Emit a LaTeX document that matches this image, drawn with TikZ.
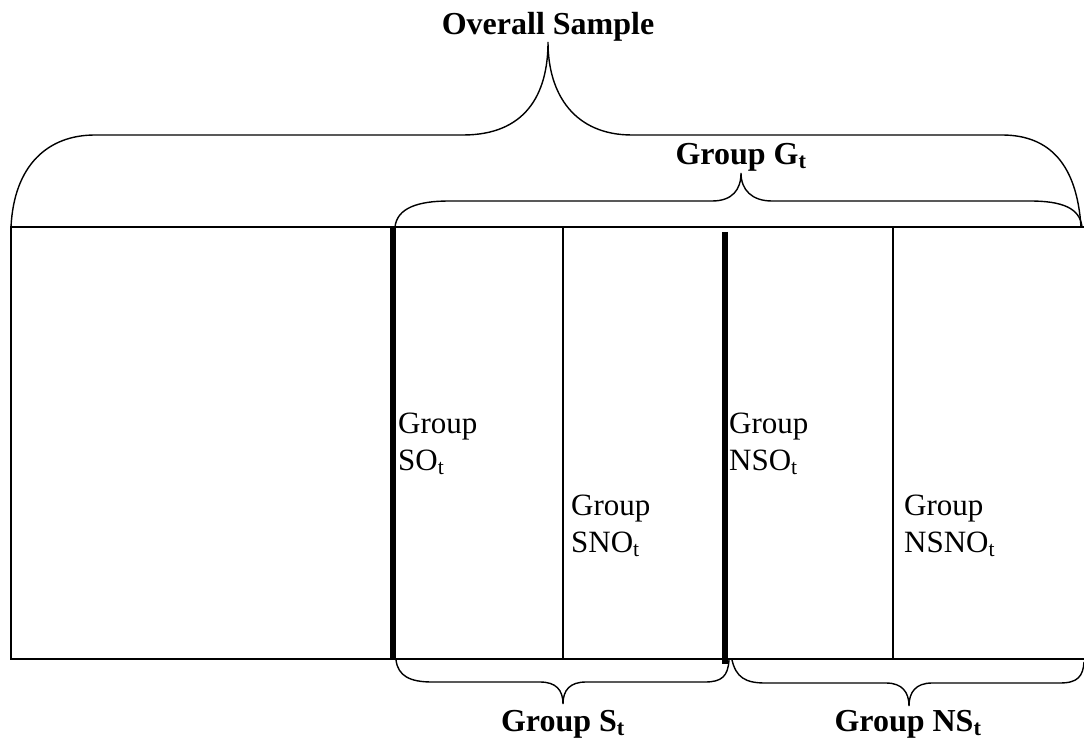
\documentclass[tikz,border=0pt]{standalone}
\usepackage{fontspec}
\setmainfont{Liberation Serif}
\begin{document}
\begin{tikzpicture}[x=1pt,y=-1pt,
  thin line/.style={line width=1.4pt},
  split bar/.style={line width=6pt},
  brace line/.style={line width=1.4pt},
  cell label/.style={anchor=north west,inner sep=0pt,align=left,
    font=\fontsize{31}{37}\selectfont},
  brace label/.style={inner sep=0pt,font=\fontsize{32}{36}\selectfont\bfseries}]
\useasboundingbox (0,0) rectangle (1084,743);

% outer frame of the sample
\coordinate (tl) at (11,227);
\coordinate (bl) at (11,659);
\coordinate (tr) at (1084,227);
\coordinate (br) at (1084,659);
\draw[thin line] (tr) -- (tl) -- (bl) -- (br);

% division lines
\coordinate (s1) at (393,227);  \coordinate (s1b) at (393,659);
\coordinate (d1) at (563,227);  \coordinate (d1b) at (563,659);
\coordinate (s2) at (725,232);  \coordinate (s2b) at (725,664);
\coordinate (d2) at (893,227);  \coordinate (d2b) at (893,659);
\draw[thin line] (d1) -- (d1b);
\draw[thin line] (d2) -- (d2b);
\draw[split bar] (s1) -- (s1b);
\draw[split bar] (s2) -- (s2b);

% cell labels
\node[cell label] (so)   at (398,413) {Group\\SO\textsubscript{t}};
\node[cell label] (sno)  at (571,495) {Group\\SNO\textsubscript{t}};
\node[cell label] (nso)  at (729,413) {Group\\NSO\textsubscript{t}};
\node[cell label] (nsno) at (904,495) {Group\\NSNO\textsubscript{t}};

% overall brace
\node[brace label] (all) at (548,27) {Overall Sample};
\coordinate (allL) at (11,227);
\coordinate (allR) at (1081,227);
\coordinate (allT) at (548,42);
\draw[brace line] (allL) .. controls (14,165) and (48,135) .. (95,135)
  -- (463,135) .. controls (525,135) and (548,95) .. (allT)
  .. controls (548,95) and (575,135) .. (632,135)
  -- (1002,135) .. controls (1050,135) and (1077,165) .. (allR);

% group G brace
\node[brace label] (g) at (741,157) {Group G\textsubscript{t}};
\coordinate (gL) at (395,227);
\coordinate (gR) at (1082,227);
\coordinate (gT) at (741,173);
\draw[brace line] (gL) .. controls (397,208) and (418,201) .. (449,201)
  -- (712,201) .. controls (732,201) and (741,190) .. (gT)
  .. controls (741,190) and (752,201) .. (772,201)
  -- (1030,201) .. controls (1062,201) and (1080,208) .. (gR);

% group S brace
\node[brace label] (s) at (563,724) {Group S\textsubscript{t}};
\coordinate (sL) at (396,660);
\coordinate (sR) at (729,660);
\coordinate (sT) at (563,704);
\draw[brace line] (sL) .. controls (398,676) and (410,682) .. (432,682)
  -- (540,682) .. controls (556,682) and (563,690) .. (sT)
  .. controls (563,690) and (570,682) .. (586,682)
  -- (705,682) .. controls (722,682) and (728,676) .. (sR);

% group NS brace
\node[brace label] (ns) at (908,724) {Group NS\textsubscript{t}};
\coordinate (nsL) at (732,660);
\coordinate (nsR) at (1084,662);
\coordinate (nsT) at (909,706);
\draw[brace line] (nsL) .. controls (736,677) and (745,683) .. (765,683)
  -- (886,683) .. controls (902,683) and (909,692) .. (nsT)
  .. controls (909,692) and (916,683) .. (932,683)
  -- (1060,683) .. controls (1078,683) and (1083,676) .. (nsR);
\end{tikzpicture}
\end{document}
